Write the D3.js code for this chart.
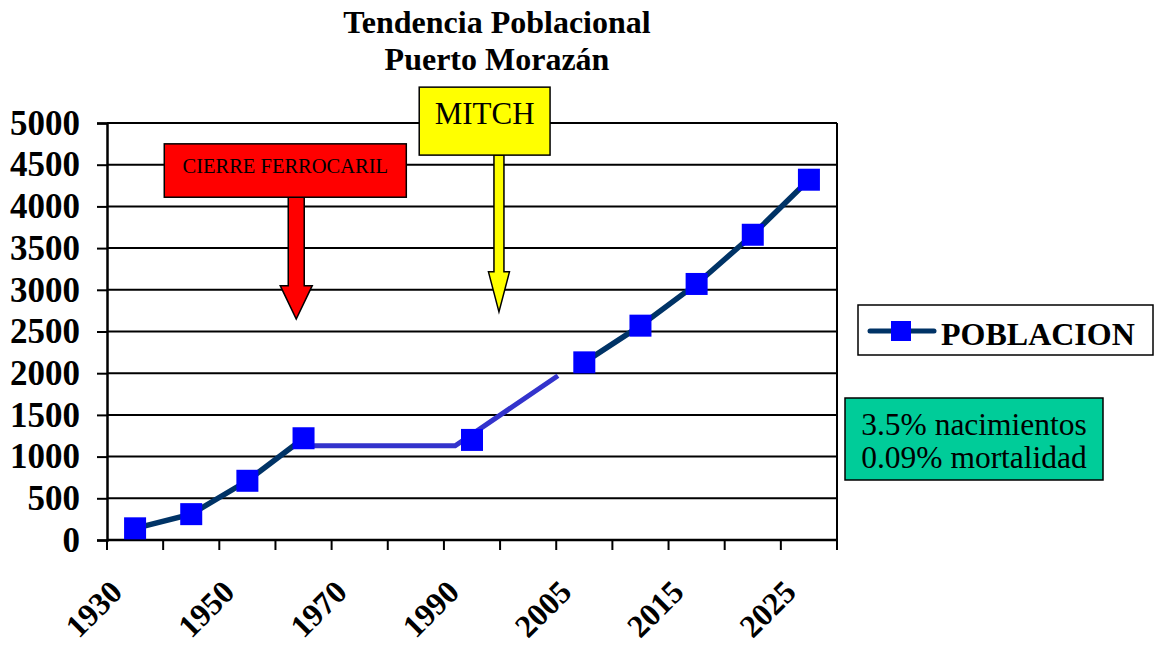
<!DOCTYPE html>
<html>
<head>
<meta charset="utf-8">
<script src="https://cdn.jsdelivr.net/npm/d3@7"></script>
<style>
  body { margin: 0; background: #fff; }
  svg { display: block; font-family: "Liberation Serif", "Times New Roman", serif; }
</style>
</head>
<body>
<div id="chart"></div>
<script>
// data
var years = ["1930","1940","1950","1960","1970","1980","1990","2000","2005","2010","2015","2020","2025"];
var labelYears = ["1930","1950","1970","1990","2005","2015","2025"];
var poblacion = [140, 310, 710, 1220, null, null, 1200, null, 2130, 2570, 3070, 3660, 4320];
var yTicks = [0, 500, 1000, 1500, 2000, 2500, 3000, 3500, 4000, 4500, 5000];

// hand drawn connector (category index, value)
var tramo = [[3, 1130], [5.7, 1130], [7.53, 1970]];

// arrow annotations (category index / value units)
var flechas = [
  {texto: "CIERRE FERROCARIL", fill: "#ff0000", size: 20.5, base: 0.55,
   box: [0.52, 4.83, 4750, 4110], tip: [2.87, 2650], shaftEnd: 3050, shaftHalf: 8, headHalf: 16},
  {texto: "MITCH", fill: "#ffff00", size: 31, base: 0.54,
   box: [5.06, 7.39, 5430, 4615], tip: [6.48, 2735], shaftEnd: 3215, shaftHalf: 5, headHalf: 10.5}
];

var width = 1155, height = 649;
var margin = {top: 123, left: 107, right: 318, bottom: 109};

var svg = d3.select("#chart").append("svg")
  .attr("width", width)
  .attr("height", height);

var x = d3.scaleBand().domain(years).range([margin.left, width - margin.right]);
var xi = d3.scaleLinear().domain([-0.5, years.length - 0.5]).range([margin.left, width - margin.right]);
var y = d3.scaleLinear().domain([0, 5000]).range([height - margin.bottom, margin.top]);

var x0 = margin.left, x1 = width - margin.right;

// title
svg.append("text")
  .attr("x", 497).attr("y", 33)
  .attr("text-anchor", "middle")
  .style("font-weight", "bold").style("font-size", "32px")
  .text("Tendencia Poblacional");
svg.append("text")
  .attr("x", 497).attr("y", 70)
  .attr("text-anchor", "middle")
  .style("font-weight", "bold").style("font-size", "32px")
  .text("Puerto Morazán");

// gridlines
svg.append("g").selectAll("line")
  .data(yTicks.filter(function(d) { return d > 0; }))
  .enter().append("line")
  .attr("x1", x0).attr("x2", x1)
  .attr("y1", function(d) { return y(d); })
  .attr("y2", function(d) { return y(d); })
  .attr("stroke", "#000").attr("stroke-width", 2);

// right border
svg.append("line")
  .attr("x1", x1).attr("x2", x1)
  .attr("y1", y(5000)).attr("y2", y(0))
  .attr("stroke", "#000").attr("stroke-width", 2);

// y axis
var yAxis = svg.append("g")
  .attr("transform", "translate(" + x0 + ",0)")
  .call(d3.axisLeft(y).tickValues(yTicks).tickSize(10).tickPadding(17).tickFormat(d3.format("d")));
yAxis.attr("font-family", null);
yAxis.select(".domain").attr("stroke-width", 2.5);
yAxis.selectAll(".tick line").attr("stroke-width", 2);
yAxis.selectAll("text")
  .style("font-size", "35px").style("font-weight", "bold")
  .attr("fill", "#000");

// x axis (ticks on category boundaries)
var xAxisG = svg.append("g");
xAxisG.append("line")
  .attr("x1", x0).attr("x2", x1)
  .attr("y1", y(0)).attr("y2", y(0))
  .attr("stroke", "#000").attr("stroke-width", 2.5);
xAxisG.selectAll("line.tk")
  .data(d3.range(years.length + 1))
  .enter().append("line")
  .attr("class", "tk")
  .attr("x1", function(d) { return xi(d - 0.5); })
  .attr("x2", function(d) { return xi(d - 0.5); })
  .attr("y1", y(0)).attr("y2", y(0) + 10)
  .attr("stroke", "#000").attr("stroke-width", 2);
xAxisG.selectAll("text")
  .data(labelYears)
  .enter().append("text")
  .attr("transform", function(d) {
    return "translate(" + (x(d) + x.bandwidth() / 2 - 11) + "," + (y(0) + 54) + ") rotate(-45)";
  })
  .attr("text-anchor", "end")
  .style("font-size", "32px").style("font-weight", "bold")
  .text(function(d) { return d; });

// connector line drawn over the gaps
svg.append("path")
  .datum(tramo)
  .attr("d", d3.line().x(function(d) { return xi(d[0]); }).y(function(d) { return y(d[1]); }))
  .attr("fill", "none")
  .attr("stroke", "#3333cc")
  .attr("stroke-width", 5);

// series line
var line = d3.line()
  .defined(function(d) { return d != null; })
  .x(function(d, i) { return x(years[i]) + x.bandwidth() / 2; })
  .y(function(d) { return y(d); });

svg.append("path")
  .datum(poblacion)
  .attr("d", line)
  .attr("fill", "none")
  .attr("stroke", "#003366")
  .attr("stroke-width", 5.5);

var pts = poblacion.map(function(v, i) { return {year: years[i], v: v}; })
  .filter(function(d) { return d.v != null; });
var ms = 22;
svg.append("g").selectAll("rect")
  .data(pts)
  .enter().append("rect")
  .attr("x", function(d) { return x(d.year) + x.bandwidth() / 2 - ms / 2; })
  .attr("y", function(d) { return y(d.v) - ms / 2; })
  .attr("width", ms).attr("height", ms)
  .attr("fill", "#0000ff");

// arrow annotations
flechas.forEach(function(f) {
  var bx0 = xi(f.box[0]), bx1 = xi(f.box[1]);
  var by0 = y(f.box[2]), by1 = y(f.box[3]);
  var tx = xi(f.tip[0]), ty = y(f.tip[1]);
  var se = y(f.shaftEnd);
  var pts = [
    [tx - f.shaftHalf, by1], [tx + f.shaftHalf, by1], [tx + f.shaftHalf, se],
    [tx + f.headHalf, se], [tx, ty], [tx - f.headHalf, se], [tx - f.shaftHalf, se]
  ];
  svg.append("path")
    .attr("d", "M" + pts.join("L") + "Z")
    .attr("fill", f.fill).attr("stroke", "#000").attr("stroke-width", 1.5);
  svg.append("rect")
    .attr("x", bx0).attr("y", by0)
    .attr("width", bx1 - bx0).attr("height", by1 - by0)
    .attr("fill", f.fill).attr("stroke", "#000").attr("stroke-width", 1.5);
  svg.append("text")
    .attr("x", (bx0 + bx1) / 2)
    .attr("y", by0 + (by1 - by0) * f.base)
    .attr("text-anchor", "middle")
    .style("font-size", f.size + "px")
    .text(f.texto);
});

// legend
var lg = svg.append("g");
lg.append("rect")
  .attr("x", 858).attr("y", 305).attr("width", 295).attr("height", 50)
  .attr("fill", "#fff").attr("stroke", "#000").attr("stroke-width", 1.5);
lg.append("line")
  .attr("x1", 870).attr("x2", 934).attr("y1", 331).attr("y2", 331)
  .attr("stroke", "#003366").attr("stroke-width", 5).attr("stroke-linecap", "round");
lg.append("rect")
  .attr("x", 891).attr("y", 321).attr("width", 20).attr("height", 20)
  .attr("fill", "#0000ff");
lg.append("text")
  .attr("x", 941).attr("y", 345)
  .style("font-size", "32px").style("font-weight", "bold")
  .text("POBLACION");

// rates box
var nota = ["3.5% nacimientos", "0.09% mortalidad"];
svg.append("rect")
  .attr("x", 845).attr("y", 398).attr("width", 258).attr("height", 82)
  .attr("fill", "#00cc99").attr("stroke", "#000").attr("stroke-width", 1.5);
svg.append("g").selectAll("text")
  .data(nota)
  .enter().append("text")
  .attr("x", 974)
  .attr("y", function(d, i) { return 435 + i * 33; })
  .attr("text-anchor", "middle")
  .style("font-size", "31.5px")
  .text(function(d) { return d; });
</script>
</body>
</html>
